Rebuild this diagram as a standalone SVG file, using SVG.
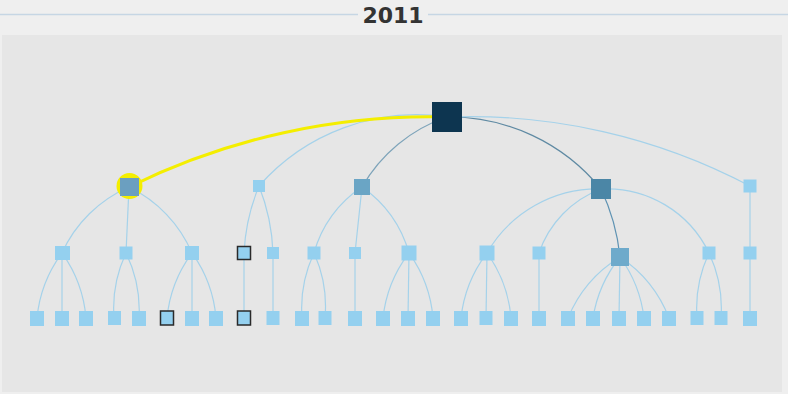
<svg xmlns="http://www.w3.org/2000/svg" width="788" height="394" viewBox="0 0 788 394">
<style>
.e{fill:none;stroke:#a5d2ea;stroke-width:1.2}
.n{fill:#94d0ef}
.s{stroke:#2a2a2a;stroke-width:1.5}
</style>
<rect x="0" y="0" width="788" height="394" fill="#efefef"/>
<rect x="2" y="35" width="780" height="357" fill="#e6e6e6"/>
<line x1="0" y1="14.5" x2="358" y2="14.5" stroke="#c6d6e4" stroke-width="1.5"/>
<line x1="428" y1="14.5" x2="788" y2="14.5" stroke="#c6d6e4" stroke-width="1.5"/>
<text x="393" y="23" text-anchor="middle" font-family="DejaVu Sans, sans-serif" font-weight="bold" font-size="22" fill="#333">2011</text>
<g id="connectors">
<path class="e" d="M447,117 A210,210 0 0,0 259,186"/>
<path class="e" style="stroke:#7ea4ba" d="M447,117 A155,155 0 0,0 362,187"/>
<path class="e" style="stroke:#5f8aa3" d="M447,117 A195,195 0 0,1 601,189"/>
<path class="e" d="M447,117 A600,600 0 0,1 750,186"/>
<path class="e" d="M129,187 A131,131 0 0,0 62,253"/>
<path class="e" d="M129,187 L126,253"/>
<path class="e" d="M129,187 A131,131 0 0,1 192,253"/>
<path class="e" d="M259,186 A200,200 0 0,0 244,253"/>
<path class="e" d="M259,186 A200,200 0 0,1 273,253"/>
<path class="e" d="M362,187 A115,115 0 0,0 314,253"/>
<path class="e" d="M362,187 L355,253"/>
<path class="e" d="M362,187 A121,121 0 0,1 409,253"/>
<path class="e" d="M601,189 A128,128 0 0,0 487,253"/>
<path class="e" d="M601,189 A104,104 0 0,0 539,253"/>
<path class="e" style="stroke:#5f93b3" d="M601,189 A209,209 0 0,1 620,257"/>
<path class="e" d="M601,189 A113,113 0 0,1 709,253"/>
<path class="e" d="M750,186 L750,253"/>
<path class="e" d="M62,253 A130,130 0 0,0 37,318"/>
<path class="e" d="M62,253 L62,318"/>
<path class="e" d="M62,253 A130,130 0 0,1 86,318"/>
<path class="e" d="M126,253 A130,130 0 0,0 114,318"/>
<path class="e" d="M126,253 A130,130 0 0,1 139,318"/>
<path class="e" d="M192,253 A130,130 0 0,0 167,318"/>
<path class="e" d="M192,253 L192,318"/>
<path class="e" d="M192,253 A130,130 0 0,1 216,318"/>
<path class="e" d="M244,253 L244,318"/>
<path class="e" d="M273,253 L273,318"/>
<path class="e" d="M314,253 A130,130 0 0,0 302,318"/>
<path class="e" d="M314,253 A130,130 0 0,1 325,318"/>
<path class="e" d="M355,253 L355,318"/>
<path class="e" d="M409,253 A130,130 0 0,0 383,318"/>
<path class="e" d="M409,253 L408,318"/>
<path class="e" d="M409,253 A130,130 0 0,1 433,318"/>
<path class="e" d="M487,253 A130,130 0 0,0 461,318"/>
<path class="e" d="M487,253 L486,318"/>
<path class="e" d="M487,253 A130,130 0 0,1 511,318"/>
<path class="e" d="M539,253 L539,318"/>
<path class="e" d="M620,257 A130,130 0 0,0 568,318"/>
<path class="e" d="M620,257 A130,130 0 0,0 593,318"/>
<path class="e" d="M620,257 L619,318"/>
<path class="e" d="M620,257 A130,130 0 0,1 644,318"/>
<path class="e" d="M620,257 A130,130 0 0,1 669,318"/>
<path class="e" d="M709,253 A130,130 0 0,0 697,318"/>
<path class="e" d="M709,253 A130,130 0 0,1 721,318"/>
<path class="e" d="M750,253 L750,318"/>
<path d="M447,117 A680,680 0 0,0 129,187" fill="none" stroke="#f4ee00" stroke-width="3"/>
</g>
<g id="root"><rect x="432" y="102" width="30" height="30" fill="#0d3550"/></g>
<g id="nA"><circle cx="129.5" cy="186" r="13" fill="#f4ee00"/><rect x="120" y="178" width="19" height="18" fill="#6b9fc0"/></g>
<g id="nB"><rect class="n" x="253" y="180" width="12" height="12"/></g>
<g id="nC"><rect x="354" y="179" width="16" height="16" fill="#6aa5c5"/></g>
<g id="nD"><rect x="591" y="179" width="20" height="20" fill="#4b86a6"/></g>
<g id="nE"><rect class="n" x="743.5" y="179.5" width="13" height="13"/></g>
<g id="a1"><rect class="n" x="55" y="246" width="15" height="14"/></g>
<g id="a2"><rect class="n" x="119.5" y="246.5" width="13" height="13"/></g>
<g id="a3"><rect class="n" x="185" y="246" width="14" height="14"/></g>
<g id="b1"><rect class="n s" x="237.5" y="246.5" width="13" height="13"/></g>
<g id="b2"><rect class="n" x="267" y="247" width="12" height="12"/></g>
<g id="c1"><rect class="n" x="307.5" y="246.5" width="13" height="13"/></g>
<g id="c2"><rect class="n" x="349" y="247" width="12" height="12"/></g>
<g id="c3"><rect class="n" x="401.5" y="245.5" width="15" height="15"/></g>
<g id="d1"><rect class="n" x="479.5" y="245.5" width="15" height="15"/></g>
<g id="d2"><rect class="n" x="532.5" y="246.5" width="13" height="13"/></g>
<g id="d3"><rect x="611" y="248" width="18" height="18" fill="#6eaacb"/></g>
<g id="d4"><rect class="n" x="702.5" y="246.5" width="13" height="13"/></g>
<g id="e1"><rect class="n" x="743.5" y="246.5" width="13" height="13"/></g>
<g id="l1"><rect class="n" x="30" y="311" width="14" height="15"/></g>
<g id="l2"><rect class="n" x="55" y="311" width="14" height="15"/></g>
<g id="l3"><rect class="n" x="79" y="311" width="14" height="15"/></g>
<g id="l4"><rect class="n" x="108" y="311" width="13" height="14"/></g>
<g id="l5"><rect class="n" x="132" y="311" width="14" height="15"/></g>
<g id="l6"><rect class="n s" x="160.5" y="311" width="13" height="14"/></g>
<g id="l7"><rect class="n" x="185" y="311" width="14" height="15"/></g>
<g id="l8"><rect class="n" x="209" y="311" width="14" height="15"/></g>
<g id="l9"><rect class="n s" x="237.5" y="311" width="13" height="14"/></g>
<g id="l10"><rect class="n" x="266.5" y="311" width="13" height="14"/></g>
<g id="l11"><rect class="n" x="295" y="311" width="14" height="15"/></g>
<g id="l12"><rect class="n" x="318.5" y="311" width="13" height="14"/></g>
<g id="l13"><rect class="n" x="348" y="311" width="14" height="15"/></g>
<g id="l14"><rect class="n" x="376" y="311" width="14" height="15"/></g>
<g id="l15"><rect class="n" x="401" y="311" width="14" height="15"/></g>
<g id="l16"><rect class="n" x="426" y="311" width="14" height="15"/></g>
<g id="l17"><rect class="n" x="454" y="311" width="14" height="15"/></g>
<g id="l18"><rect class="n" x="479.5" y="311" width="13" height="14"/></g>
<g id="l19"><rect class="n" x="504" y="311" width="14" height="15"/></g>
<g id="l20"><rect class="n" x="532" y="311" width="14" height="15"/></g>
<g id="l21"><rect class="n" x="561" y="311" width="14" height="15"/></g>
<g id="l22"><rect class="n" x="586" y="311" width="14" height="15"/></g>
<g id="l23"><rect class="n" x="612" y="311" width="14" height="15"/></g>
<g id="l24"><rect class="n" x="637" y="311" width="14" height="15"/></g>
<g id="l25"><rect class="n" x="662" y="311" width="14" height="15"/></g>
<g id="l26"><rect class="n" x="690.5" y="311" width="13" height="14"/></g>
<g id="l27"><rect class="n" x="714.5" y="311" width="13" height="14"/></g>
<g id="l28"><rect class="n" x="743" y="311" width="14" height="15"/></g>
</svg>
